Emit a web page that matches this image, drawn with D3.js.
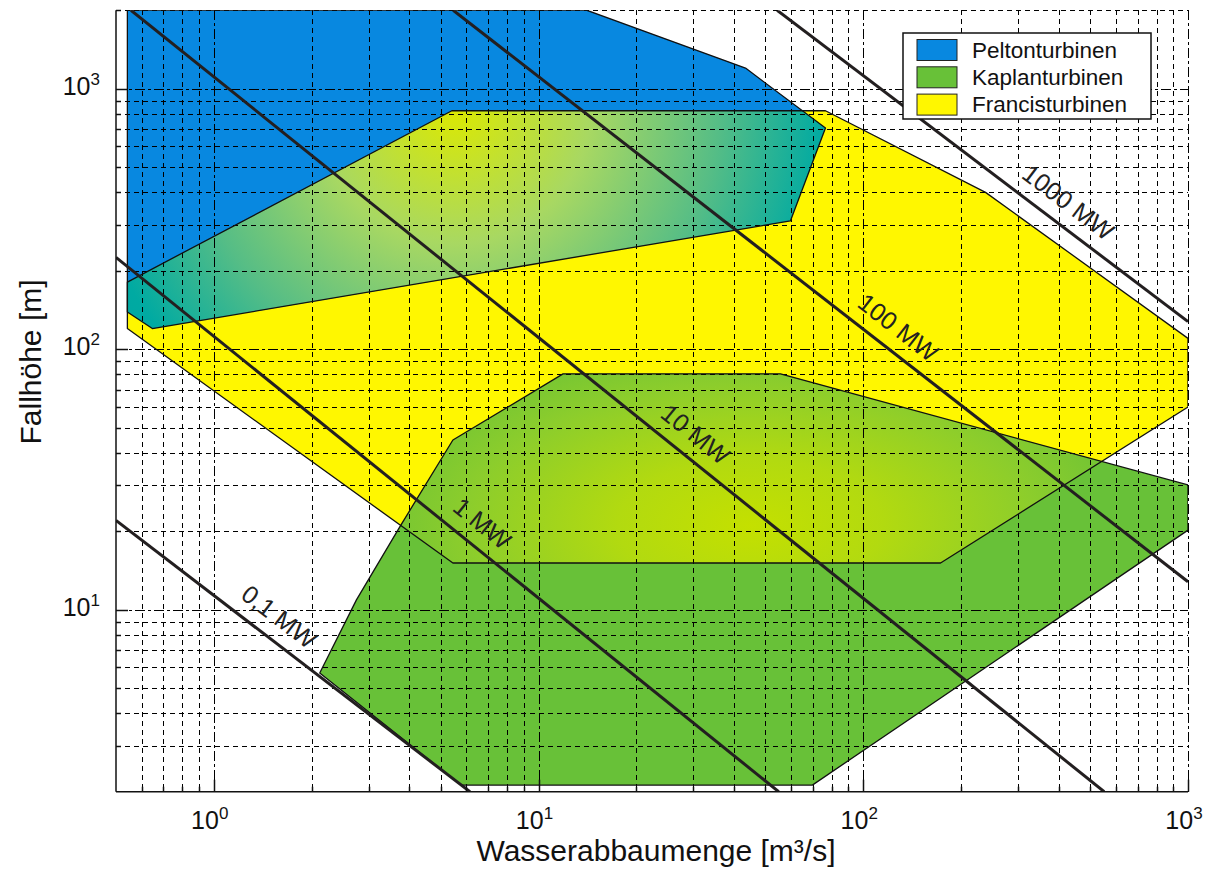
<!DOCTYPE html>
<html>
<head>
<meta charset="utf-8">
<script src="https://cdn.jsdelivr.net/npm/d3@7"></script>
<style>
  body { margin: 0; background: #fff; }
  svg { display: block; }
  text { font-family: "Liberation Sans", Arial, sans-serif; fill: #111; }
</style>
</head>
<body>
<svg id="chart" width="1209" height="870"></svg>
<script>
// Axis ranges and tick labels (log-log: discharge vs. head)
const xDomain = [0.5, 1000];
const yDomain = [2, 2000];
const xMajor = [1, 10, 100, 1000];
const xMajorExp = ["0", "1", "2", "3"];
const yMajor = [10, 100, 1000];
const yMajorExp = ["1", "2", "3"];

// Application ranges of the turbine types, [Q in m³/s, H in m]
const pelton = [[0.542, 2000], [14.1, 2000], [43.4, 1200], [76.5, 706], [59.7, 311], [0.647, 120], [0.542, 139]];
const francis = [[0.542, 181], [5.41, 823], [76.5, 823], [238, 400], [1000, 110], [1000, 60], [173, 15.1], [5.45, 15.1], [0.542, 120]];
const kaplan = [[2.12, 5.71], [2.75, 10.9], [3.74, 20.8], [5.45, 44.8], [11.9, 80.4], [55.6, 80.4], [1000, 30.1], [1000, 20.2], [69.7, 2.12], [5.77, 2.12]];

// Lines of constant power output
const powerLabels = ["0,1 MW", "1 MW", "10 MW", "100 MW", "1000 MW"];
const powerStart = [[0.5, 22], [0.5, 225], [0.556, 2000], [5.46, 2000], [54.3, 2000]];
const powerEnd = [[6.15, 2], [54.9, 2], [552, 2], [1000, 12.8], [1000, 127.6]];
const powerLabelQ = [1.44, 6.06, 27.5, 116, 388];

// Legend
const legendNames = ["Peltonturbinen", "Kaplanturbinen", "Francisturbinen"];
const legendColors = ["#0888e0", "#68c138", "#fff700"];

const svg = d3.select("#chart");
const L = 116, R = 1188, T = 10.3, B = 791.7;
const x = d3.scaleLog().domain(xDomain).range([L, R]);
const y = d3.scaleLog().domain(yDomain).range([B, T]);
const px = v => Math.round(v) + 0.5;

const defs = svg.append("defs");
defs.append("clipPath").attr("id", "plotClip")
  .append("rect").attr("x", L).attr("y", T).attr("width", R - L).attr("height", B - T);

const line = d3.line().x(d => x(d[0])).y(d => y(d[1]));
const poly = pts => line(pts) + "Z";

defs.append("clipPath").attr("id", "peltonClip").append("path").attr("d", poly(pelton));
defs.append("clipPath").attr("id", "kaplanClip").append("path").attr("d", poly(kaplan));

// Shading of the overlap areas
const g1 = defs.append("radialGradient").attr("id", "gradPF")
  .attr("gradientUnits", "userSpaceOnUse")
  .attr("cx", x(5.5)).attr("cy", y(850)).attr("r", 390);
[[0, "#dce900"], [0.35, "#a8d862"], [0.68, "#55bd86"], [0.95, "#00aaa2"], [1, "#00a8a2"]]
  .forEach(s => g1.append("stop").attr("offset", s[0]).attr("stop-color", s[1]));

const kcx = x(45), kcy = y(21);
const g2 = defs.append("radialGradient").attr("id", "gradKF")
  .attr("gradientUnits", "userSpaceOnUse")
  .attr("cx", kcx).attr("cy", kcy).attr("r", 380)
  .attr("gradientTransform", `translate(${kcx},${kcy}) scale(1,0.5) translate(${-kcx},${-kcy})`);
[[0, "#c4e000"], [0.35, "#b2da10"], [0.75, "#8ccd2c"], [1, "#72c434"]]
  .forEach(s => g2.append("stop").attr("offset", s[0]).attr("stop-color", s[1]));

const plot = svg.append("g").attr("clip-path", "url(#plotClip)");

// Region fills
plot.append("path").attr("d", poly(francis)).attr("fill", legendColors[2]);
plot.append("path").attr("d", poly(pelton)).attr("fill", legendColors[0]);
plot.append("path").attr("d", poly(kaplan)).attr("fill", legendColors[1]);
plot.append("g").attr("clip-path", "url(#peltonClip)")
  .append("path").attr("d", poly(francis)).attr("fill", "url(#gradPF)");
plot.append("g").attr("clip-path", "url(#kaplanClip)")
  .append("path").attr("d", poly(francis)).attr("fill", "url(#gradKF)");

// Grid
const xAll = [], yAll = [];
for (let e = -1; e <= 3; e++) for (let m = 1; m <= 9; m++) {
  const v = m * Math.pow(10, e);
  if (v > xDomain[0] * 1.001 && v <= xDomain[1] * 1.0001) xAll.push(v);
  if (v > yDomain[0] * 1.001 && v <= yDomain[1] * 1.0001) yAll.push(v);
}
const isMajor = v => Math.abs(Math.log10(v) - Math.round(Math.log10(v))) < 1e-6;
const grid = svg.append("g").attr("stroke", "#000").attr("stroke-width", 1.2)
  .attr("fill", "none").attr("shape-rendering", "crispEdges");
xAll.forEach(v => grid.append("line")
  .attr("x1", px(x(v))).attr("x2", px(x(v))).attr("y1", T).attr("y2", B)
  .attr("stroke-dasharray", isMajor(v) ? "10,3,3,3" : "5,4"));
yAll.forEach(v => grid.append("line")
  .attr("y1", px(y(v))).attr("y2", px(y(v))).attr("x1", L).attr("x2", R)
  .attr("stroke-dasharray", isMajor(v) ? "10,3,3,3" : "5,4"));

// Region outlines
const outl = svg.append("g").attr("clip-path", "url(#plotClip)")
  .attr("fill", "none").attr("stroke", "#111").attr("stroke-width", 1.3).attr("stroke-linejoin", "round");
[francis, pelton, kaplan].forEach(p => outl.append("path").attr("d", poly(p)));

// Power lines
const pw = svg.append("g").attr("clip-path", "url(#plotClip)");
powerLabels.forEach((lab, i) => {
  pw.append("path").attr("d", line([powerStart[i], powerEnd[i]]))
    .attr("stroke", "#231f20").attr("stroke-width", 3).attr("fill", "none");
});
powerLabels.forEach((lab, i) => {
  const [q0, h0] = powerStart[i], [q1, h1] = powerEnd[i];
  const t = (Math.log10(powerLabelQ[i]) - Math.log10(q0)) / (Math.log10(q1) - Math.log10(q0));
  const h = Math.pow(10, Math.log10(h0) + t * (Math.log10(h1) - Math.log10(h0)));
  const lx = x(powerLabelQ[i]), ly = y(h);
  const ang = Math.atan2(y(h1) - y(h0), x(q1) - x(q0)) * 180 / Math.PI;
  svg.append("text")
    .attr("transform", `translate(${lx},${ly}) rotate(${ang})`)
    .attr("y", -14).attr("text-anchor", "middle")
    .attr("font-size", 25).style("fill", "#222")
    .text(lab);
});

// Axes: left and bottom lines with inward ticks
const ax = svg.append("g").attr("stroke", "#111").attr("stroke-width", 1.5);
ax.append("line").attr("x1", L).attr("x2", L).attr("y1", T).attr("y2", B);
ax.append("line").attr("x1", L).attr("x2", R).attr("y1", B).attr("y2", B);
xAll.forEach(v => ax.append("line").attr("x1", px(x(v))).attr("x2", px(x(v)))
  .attr("y1", B).attr("y2", B - (isMajor(v) ? 12 : 5)));
yAll.forEach(v => ax.append("line").attr("y1", px(y(v))).attr("y2", px(y(v)))
  .attr("x1", L).attr("x2", L + (isMajor(v) ? 12 : 5)));

// Tick labels (powers of ten)
xMajor.forEach((v, i) => {
  const t = svg.append("text").attr("x", x(v) - 4).attr("y", 829)
    .attr("text-anchor", "middle").attr("font-size", 25);
  t.append("tspan").text("10");
  t.append("tspan").attr("dy", -10).attr("font-size", 17).text(xMajorExp[i]);
});
yMajor.forEach((v, i) => {
  const t = svg.append("text").attr("x", 100).attr("y", y(v) + 6)
    .attr("text-anchor", "end").attr("font-size", 25);
  t.append("tspan").text("10");
  t.append("tspan").attr("dy", -10).attr("font-size", 17).text(yMajorExp[i]);
});

// Axis titles
svg.append("text").attr("x", 656).attr("y", 861).attr("text-anchor", "middle")
  .attr("font-size", 30).text("Wasserabbaumenge [m³/s]");
svg.append("text").attr("transform", "translate(41,362) rotate(-90)")
  .attr("text-anchor", "middle").attr("font-size", 30).text("Fallhöhe [m]");

// Legend
const lg = svg.append("g");
lg.append("rect").attr("x", 903).attr("y", 33).attr("width", 248).attr("height", 86)
  .attr("fill", "#fff").attr("stroke", "#111").attr("stroke-width", 1.5);
legendNames.forEach((n, i) => {
  lg.append("rect").attr("x", 917).attr("y", 39.5 + i * 27.3).attr("width", 40).attr("height", 21)
    .attr("fill", legendColors[i]).attr("stroke", "#222").attr("stroke-width", 1);
  lg.append("text").attr("x", 972).attr("y", 57.5 + i * 27.3)
    .attr("font-size", 22.5).text(n);
});
</script>
</body>
</html>
